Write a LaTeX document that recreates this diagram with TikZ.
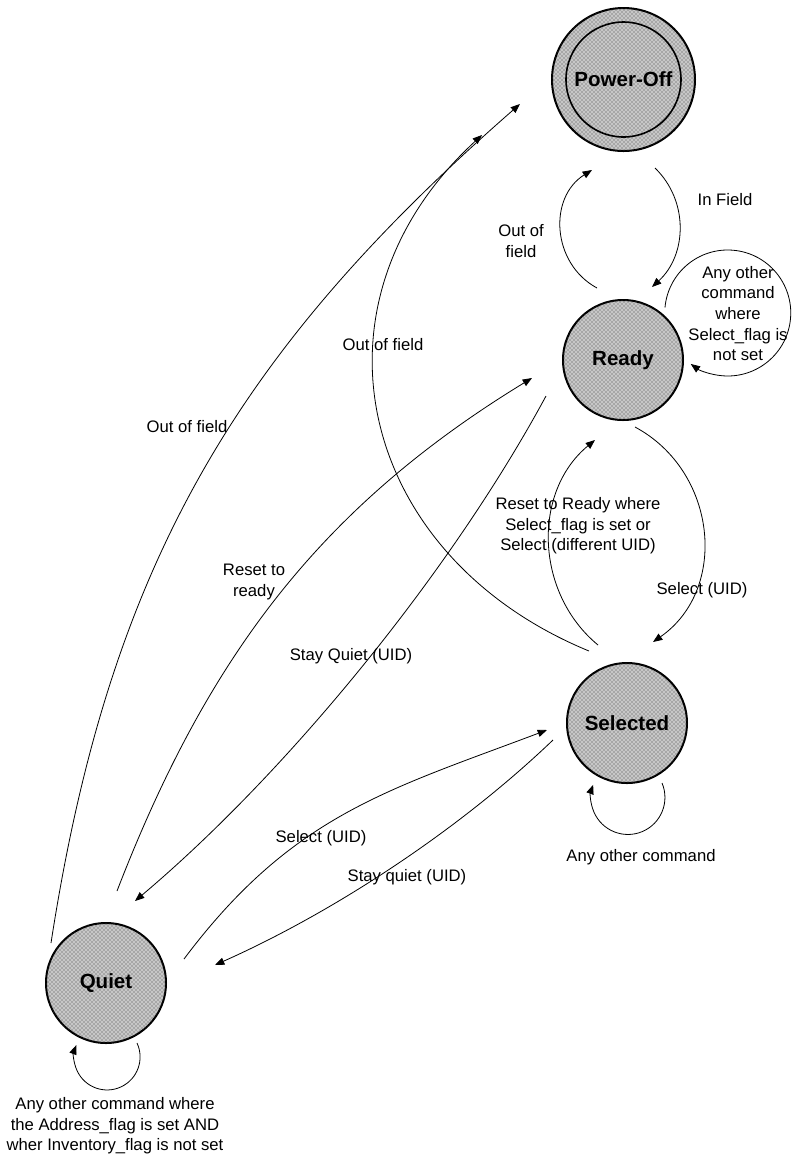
\documentclass[tikz,border=0pt]{standalone}
\usepackage{fontspec}
\setmainfont{Liberation Sans}
\usetikzlibrary{arrows.meta,calc,patterns}
\begin{document}
\begin{tikzpicture}[x=0.75pt,y=0.75pt,
  state/.style={circle,draw,line width=1.5pt,fill=black!22,postaction={pattern=crosshatch dots,pattern color=black!75},minimum size=90pt,inner sep=0pt,font=\fontsize{15.4}{18}\selectfont\bfseries},
  conn/.style={line width=0.6pt,-{Triangle[length=7pt,width=5.5pt]}},
  lbl/.style={font=\fontsize{12.5}{15.4}\selectfont,align=center,inner sep=0pt}]
\useasboundingbox (0,0) rectangle (793,-1158);
% states
\node[state,minimum size=107.25pt] (po) at (623.5,-79.5) {};
\node[circle,draw,line width=1.2pt,minimum size=86.25pt,inner sep=0pt,font=\fontsize{15.4}{18}\selectfont\bfseries] (poin) at (po.center) {Power-Off};
\node[state] (rd) at (623,-360) {Ready};
\node[state] (sel) at (627,-723) {Selected};
\node[state] (qt) at (106,-983) {Quiet};
% Quiet -> Power-Off
\draw[conn] ($(qt)+(-55,40)$) .. controls (109,-568) and (234,-354) .. ($(po)+(-103.5,-24.5)$);
% Selected -> Power-Off
\draw[conn] ($(sel)+(-38,72)$) .. controls (358,-556) and (298,-304) .. ($(po)+(-141.5,-55.5)$);
% Ready -> Power-Off
\draw[conn] ($(rd)+(-26,72)$) .. controls (551.6,-263.4) and (548.2,-197.3) .. ($(po)+(-31.5,-90.5)$);
% Power-Off -> Ready
\draw[conn] ($(po)+(31.5,-88.5)$) .. controls (689,-201) and (687,-255) .. ($(rd)+(29,73)$);
% Ready loop
\draw[conn] ($(rd)+(42,52.5)$) arc[start angle=175,end angle=-126,radius=63];
% Ready -> Selected
\draw[conn] ($(rd)+(12,-67)$) .. controls (717,-471) and (729,-589) .. ($(sel)+(26,81)$);
% Selected -> Ready
\draw[conn] ($(sel)+(-29,78)$) .. controls (535,-593) and (532,-492) .. ($(rd)+(-28,-80)$);
% Quiet -> Ready
\draw[conn] ($(qt)+(11,92)$) .. controls (207,-658) and (319,-508) .. ($(rd)+(-91,-18)$);
% Ready -> Quiet
\draw[conn] ($(rd)+(-77,-36)$) .. controls (451,-572) and (288,-772) .. ($(qt)+(29,82)$);
% Quiet -> Selected
\draw[conn] ($(qt)+(78,24)$) .. controls (292,-815) and (388,-790) .. ($(sel)+(-80,-7)$);
% Selected -> Quiet
\draw[conn] ($(sel)+(-74,-17)$) .. controls (459,-830) and (334,-912) .. ($(qt)+(109,18)$);
% Selected loop
\draw[conn] ($(sel)+(35,-60)$) arc[start angle=23,end angle=-200,radius=37];
% Quiet loop
\draw[conn] ($(qt)+(31,-60)$) arc[start angle=25,end angle=-201,radius=33];
% labels
\node[lbl] (l1) at (725,-200) {In Field};
\node[lbl] (l2) at (521,-241) {Out of\\field};
\node[lbl] (l3) at (738,-313.5) {Any other\\command\\where\\Select\_flag is\\not set};
\node[lbl] (l4) at (383,-345) {Out of field};
\node[lbl] (l5) at (187,-427) {Out of field};
\node[lbl] (l6) at (254,-582) {Reset to\\ready};
\node[lbl] (l7) at (351,-656) {Stay Quiet (UID)};
\node[lbl] (l8) at (578,-526) {Reset to Ready where\\Select\_flag is set or\\Select (different UID)};
\node[lbl] (l9) at (702,-590) {Select (UID)};
\node[lbl] (l10) at (321,-838) {Select (UID)};
\node[lbl] (l11) at (407,-877) {Stay quiet (UID)};
\node[lbl] (l12) at (641,-857) {Any other command};
\node[lbl] (l13) at (115,-1126) {Any other command where\\the Address\_flag is set AND\\wher Inventory\_flag is not set};
\end{tikzpicture}
\end{document}
